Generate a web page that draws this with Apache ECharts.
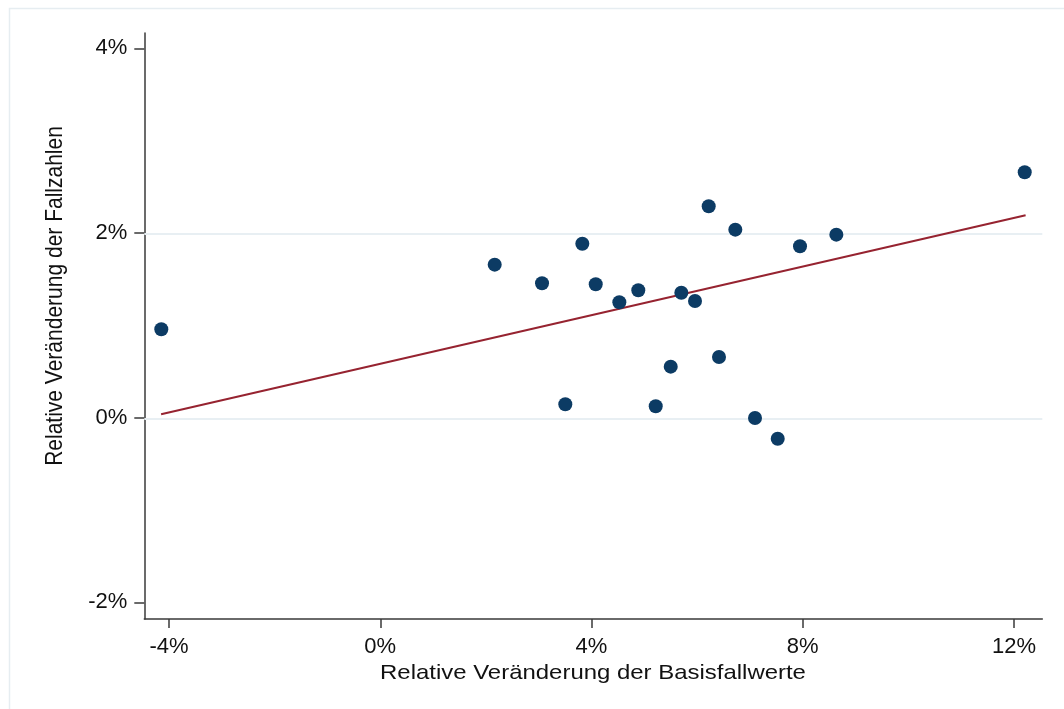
<!DOCTYPE html>
<html>
<head>
<meta charset="utf-8">
<script src="https://cdn.jsdelivr.net/npm/echarts@6/dist/echarts.min.js"></script>
<style>
html,body{margin:0;padding:0;background:#fff;}
#c{width:1064px;height:709px;}
</style>
</head>
<body>
<div id="c"></div>
<script>
// Relative change of base case values (%), x
const basisfallwerte = [-4.146, 2.167, 3.063, 3.504, 3.826, 4.080, 4.527, 4.886, 5.216, 5.500,
                        5.701, 5.960, 6.219, 6.414, 6.723, 7.096, 7.526, 7.948, 8.636, 12.203];
// Relative change of case numbers (%), y
const fallzahlen = [0.964, 1.664, 1.462, 0.152, 1.891, 1.451, 1.256, 1.386, 0.130, 0.559,
                    1.360, 1.270, 2.296, 0.664, 2.043, 0.003, -0.221, 1.863, 1.989, 2.664];
// Fitted line endpoints
const fitX = [-4.15, 12.22];
const fitY = [0.043, 2.199];
// Axis extents and ticks
const xExtent = [-4.468, 12.536];
const yExtent = [-2.174, 4.173];
const xTicks = [-4, 0, 4, 8, 12];
const yTicks = [-2, 0, 2, 4];
const gridLinesY = [0, 2];
const xTitle = 'Relative Veränderung der Basisfallwerte';
const yTitle = 'Relative Veränderung der Fallzahlen';

const FONT = '"Liberation Sans", Arial, sans-serif';
const AXIS_COLOR = '#3a3a3a';
const TEXT_COLOR = '#111';

const chart = echarts.init(document.getElementById('c'), null, {renderer: 'canvas'});

const points = basisfallwerte.map((x, i) => [x, fallzahlen[i]]);
const fitLine = fitX.map((x, i) => [x, fitY[i]]);

const option = {
  animation: false,
  backgroundColor: '#fff',
  textStyle: {fontFamily: FONT},
  grid: [
    {left: 144.3, right: 21.7, top: 33, bottom: 90},
    {left: 169, right: 50, top: 48.3, bottom: 106.7}
  ],
  xAxis: [
    {
      gridIndex: 0, type: 'value', min: xExtent[0], max: xExtent[1],
      axisLine: {show: true, onZero: false, lineStyle: {color: AXIS_COLOR, width: 1.5}},
      axisTick: {show: false}, axisLabel: {show: false}, splitLine: {show: false}
    },
    {
      gridIndex: 1, type: 'value', min: xTicks[0], max: xTicks[xTicks.length - 1],
      interval: xTicks[1] - xTicks[0], offset: 16.7,
      axisLine: {show: false, onZero: false},
      axisTick: {show: true, length: 9, lineStyle: {color: AXIS_COLOR, width: 1.5}},
      axisLabel: {show: true, formatter: '{value}%', fontSize: 22, color: TEXT_COLOR, margin: 17, fontFamily: FONT},
      splitLine: {show: false}
    }
  ],
  yAxis: [
    {
      gridIndex: 0, type: 'value', min: yExtent[0], max: yExtent[1],
      axisLine: {show: true, onZero: false, lineStyle: {color: AXIS_COLOR, width: 1.5}},
      axisTick: {show: false}, axisLabel: {show: false}, splitLine: {show: false}
    },
    {
      gridIndex: 1, type: 'value', min: yTicks[0], max: yTicks[yTicks.length - 1],
      interval: yTicks[1] - yTicks[0], offset: 24.7,
      axisLine: {show: false, onZero: false},
      axisTick: {show: true, length: 10, lineStyle: {color: AXIS_COLOR, width: 1.5}},
      axisLabel: {show: true, formatter: '{value}%', fontSize: 22, color: TEXT_COLOR, margin: 17, fontFamily: FONT},
      splitLine: {show: false}
    }
  ],
  series: [
    {
      type: 'line', xAxisIndex: 0, yAxisIndex: 0, data: [], z: 1, silent: true,
      markLine: {
        silent: true, z: 1, symbol: ['none', 'none'], label: {show: false},
        lineStyle: {color: '#e8eff3', width: 2, type: 'solid'},
        data: gridLinesY.map(v => ({yAxis: v}))
      }
    },
    {
      type: 'line', xAxisIndex: 0, yAxisIndex: 0, data: fitLine, z: 3,
      showSymbol: false, symbol: 'none',
      lineStyle: {color: '#962330', width: 2}
    },
    {
      type: 'scatter', xAxisIndex: 0, yAxisIndex: 0, data: points, z: 4,
      symbol: 'circle', symbolSize: 14,
      itemStyle: {color: '#0c3b64', opacity: 1}
    }
  ],
  graphic: [
    {
      type: 'rect', silent: true, z: 0,
      shape: {x: 9.5, y: 8.5, width: 1200, height: 900},
      style: {fill: 'none', stroke: '#e6edf1', lineWidth: 1.5}
    },
    {
      type: 'text', x: 593, y: 673, scaleX: 1.14, silent: true,
      style: {text: xTitle, font: '21px ' + FONT, fill: TEXT_COLOR, textAlign: 'center', textVerticalAlign: 'middle'}
    },
    {
      type: 'text', x: 55, y: 296, rotation: Math.PI / 2, scaleY: 1.14, silent: true,
      style: {text: yTitle, font: '21px ' + FONT, fill: TEXT_COLOR, textAlign: 'center', textVerticalAlign: 'middle'}
    }
  ]
};
chart.setOption(option);
</script>
</body>
</html>
